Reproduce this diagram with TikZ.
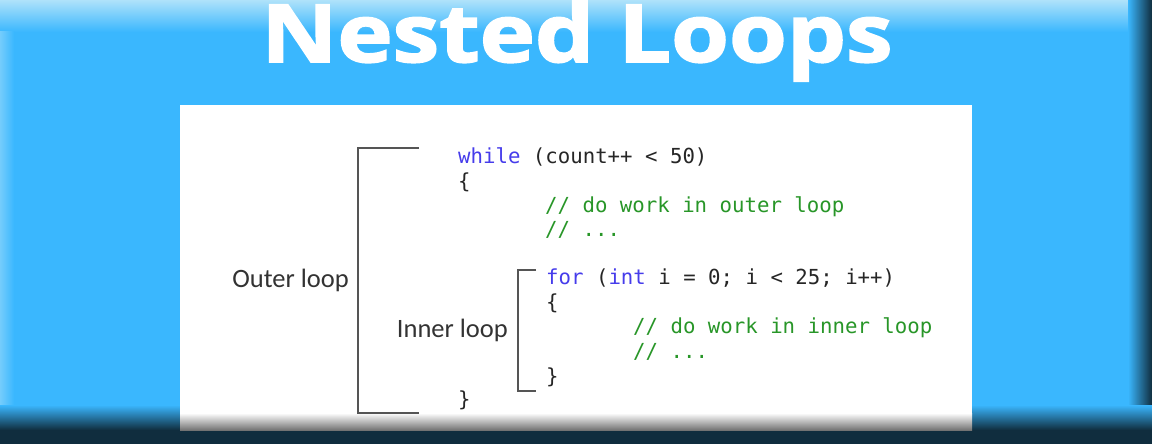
\documentclass[tikz,border=0pt]{standalone}
\usepackage{fontspec}
\usepackage{tikz}
\usepackage{graphicx}
\usetikzlibrary{positioning}
\setmainfont{Carlito}
\newfontfamily\codefont{DejaVu Sans Mono}
\newfontfamily\titlefont{Open Sans}[BoldFeatures={FakeBold=2}]

\definecolor{skyblue}{RGB}{58,183,254}
\definecolor{skylight}{RGB}{175,226,250}
\definecolor{navydark}{RGB}{16,45,62}
\definecolor{kwblue}{RGB}{70,60,235}
\definecolor{cmtgreen}{RGB}{40,150,40}
\definecolor{bracketgray}{RGB}{85,85,85}

\begin{document}
\begin{tikzpicture}[x=1pt,y=-1pt,
  codeline/.style={anchor=base west, inner sep=0pt, font=\codefont\fontsize{20.7}{24}\selectfont, text=black!85},
  looplabel/.style={anchor=base east, inner sep=0pt, font=\fontsize{26.5}{30}\selectfont, text=black!80},
  bracket/.style={draw=bracketgray, line width=1.8pt}]
\useasboundingbox (0,0) rectangle (1152,444);

%Background
\fill[skyblue] (0,0) rectangle (1152,444);
\shade[top color=skylight, bottom color=skyblue] (0,0) rectangle (1152,32);
\shade[right color=skyblue, left color=skylight!50!skyblue] (0,32) rectangle (14,410);
\shade[left color=skyblue, right color=navydark] (1128,0) rectangle (1152,410);
\shade[top color=skyblue, bottom color=navydark] (0,405) rectangle (1152,430);
\fill[navydark] (0,430) rectangle (1152,444);

%Panel
\fill[white] (180,105) rectangle (972,413);
\shade[top color=white, bottom color=black!55] (180,413) rectangle (972,430);

%Title
\node[anchor=base, inner sep=0pt, text=white] (title) at (577,62)
  {\resizebox{631pt}{61pt}{\titlefont\bfseries Nested Loops}};

%Outer loop code
\node[codeline] (while) at (458,163) {\textcolor{kwblue}{while} (count++ < 50)};
\node[codeline] (open1) at (458,188) {\{};
\node[codeline, text=cmtgreen] (cmt1) at (545,212) {// do work in outer loop};
\node[codeline, text=cmtgreen] (dots1) at (545,236) {// ...};

%Inner loop code
\node[codeline] (for) at (546,284) {\textcolor{kwblue}{for} (\textcolor{kwblue}{int} i = 0; i < 25; i++)};
\node[codeline] (open2) at (546,309) {\{};
\node[codeline, text=cmtgreen] (cmt2) at (633,333) {// do work in inner loop};
\node[codeline, text=cmtgreen] (dots2) at (633,358) {// ...};
\node[codeline] (close2) at (546,383) {\}};
\node[codeline] (close1) at (458,406) {\}};

%Brackets
\coordinate (otop) at (419,148);
\coordinate (obot) at (419,413);
\draw[bracket] (otop) -- (358,148) -- (358,413) -- (obot);
\coordinate (itop) at (536,270);
\coordinate (ibot) at (536,391);
\draw[bracket] (itop) -- (518,270) -- (518,391) -- (ibot);

%Labels
\node[looplabel] (outer) at (349,287) {Outer loop};
\node[looplabel] (inner) at (508,337) {Inner loop};
\end{tikzpicture}
\end{document}
